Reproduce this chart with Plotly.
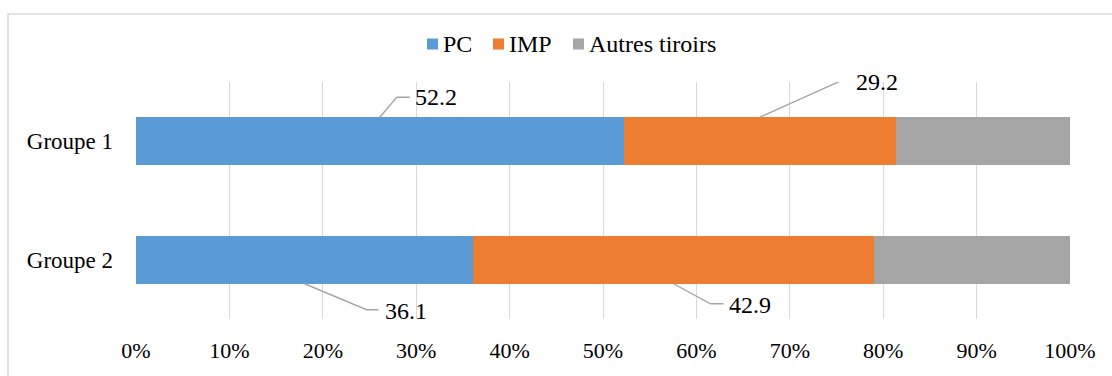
import plotly.graph_objects as go

# Share (%) of each drawer per group
groups = ["Groupe 1", "Groupe 2"]
series_names = ["PC", "IMP", "Autres tiroirs"]
pc = [52.2, 36.1]
imp = [29.2, 42.9]
autres = [18.6, 21.0]
x_ticks = [0, 10, 20, 30, 40, 50, 60, 70, 80, 90, 100]
x_tick_labels = ["0%", "10%", "20%", "30%", "40%", "50%", "60%", "70%", "80%", "90%", "100%"]

colors = ["#5B9BD5", "#ED7D31", "#A5A5A5"]
FONT = "Liberation Serif"
BAR_W = 0.405

W, H = 1112, 376
M_L, M_R, M_T, M_B = 136, 42, 82, 57
PLOT_W = W - M_L - M_R
PLOT_H = H - M_T - M_B


def px_to_paper_x(px):
    return (px - M_L) / PLOT_W


def px_to_paper_y(py):
    return (H - M_B - py) / PLOT_H


fig = go.Figure()
for name, vals, col in zip(series_names, [pc, imp, autres], colors):
    fig.add_trace(go.Bar(
        y=groups, x=vals, name=name, orientation="h",
        marker=dict(color=col, line=dict(width=0)),
        width=BAR_W, hoverinfo="skip", showlegend=False,
    ))

# Callout labels with elbow leader lines: (series values, group index, side,
# leader path in pixels relative to the bar edge, text offset)
callouts = [
    (pc, 0, "top", (17, 20, 30), (33, 20)),
    (imp, 0, "top", (80, 36, 90), (94, 35)),
    (pc, 1, "bottom", (62, -26, 74), (78, -27)),
    (imp, 1, "bottom", (37, -20, 50), (53, -21)),
]
stack = [pc, imp, autres]
for vals, gi, side, (ex, ey, hx), (tx, ty) in callouts:
    base = 0.0
    for s in stack:
        if s is vals:
            break
        base += s[gi]
    xmid = base + vals[gi] / 2
    yedge = gi - BAR_W / 2 if side == "top" else gi + BAR_W / 2
    fig.add_shape(
        type="path", xref="x", yref="y",
        xsizemode="pixel", ysizemode="pixel",
        xanchor=xmid, yanchor=yedge,
        path=f"M0,0 L{ex},{ey} L{hx},{ey}",
        line=dict(color="#A6A6A6", width=1.4),
    )
    fig.add_annotation(
        x=xmid, y=yedge, xref="x", yref="y",
        text=f"{vals[gi]:.1f}", showarrow=False,
        xanchor="left", yanchor="middle", xshift=tx, yshift=ty,
        font=dict(family=FONT, size=24, color="#000000"),
    )

# Legend row above the plot: colour square + series name
legend_left_px = [427, 493, 573]
legend_y_px = 44
SQ = 11
for name, col, lx in zip(series_names, colors, legend_left_px):
    fig.add_shape(
        type="rect", xref="paper", yref="paper",
        x0=px_to_paper_x(lx), x1=px_to_paper_x(lx + SQ),
        y0=px_to_paper_y(legend_y_px + SQ / 2), y1=px_to_paper_y(legend_y_px - SQ / 2),
        fillcolor=col, line=dict(width=0),
    )
    fig.add_annotation(
        x=px_to_paper_x(lx + SQ + 3), y=px_to_paper_y(legend_y_px),
        xref="paper", yref="paper", text=name, showarrow=False,
        xanchor="left", yanchor="middle",
        font=dict(family=FONT, size=24, color="#000000"),
    )

# Outer chart frame
fig.add_shape(
    type="rect", xref="paper", yref="paper",
    x0=px_to_paper_x(8), x1=px_to_paper_x(W + 20),
    y0=px_to_paper_y(H + 20), y1=px_to_paper_y(14),
    line=dict(color="#D9D9D9", width=1.4), fillcolor="rgba(0,0,0,0)",
)

fig.update_layout(
    barmode="stack",
    width=W, height=H,
    margin=dict(l=M_L, r=M_R, t=M_T, b=M_B),
    paper_bgcolor="white", plot_bgcolor="white",
    font=dict(family=FONT, size=22, color="#000000"),
    showlegend=False,
)
fig.update_xaxes(
    range=[0, 100], tickvals=x_ticks, ticktext=x_tick_labels,
    showgrid=True, gridcolor="#D9D9D9", gridwidth=1.4,
    zeroline=False, showline=False, ticks="", ticklabelstandoff=16,
    tickfont=dict(family=FONT, size=22),
)
fig.update_yaxes(
    autorange="reversed", range=[-0.5, 1.5],
    showgrid=False, zeroline=False, showline=False, ticks="",
    ticklabelstandoff=22, tickfont=dict(family=FONT, size=23),
)

fig.write_html("out.html")
